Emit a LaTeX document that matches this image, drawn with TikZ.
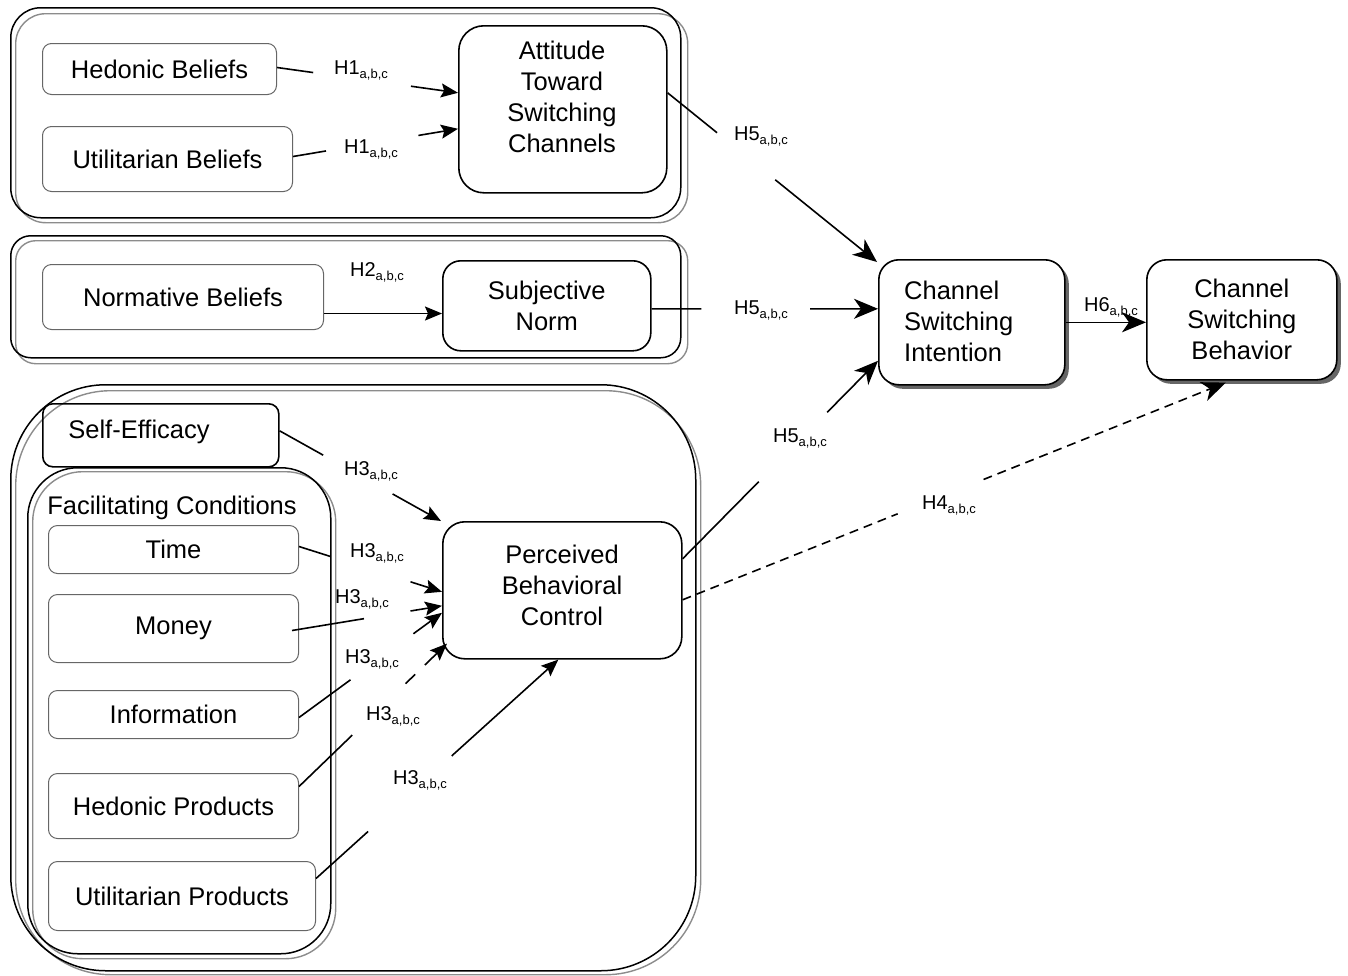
\documentclass[tikz,border=0pt]{standalone}
\usepackage{fontspec}
\setmainfont{Liberation Sans}
\usetikzlibrary{calc,arrows.meta,shadows}
\newcommand{\hyp}[1]{H#1\raisebox{-0.2em}{\fontsize{13}{14}\selectfont a,b,c}}
\begin{document}
\begin{tikzpicture}[x=1pt,y=-1pt,
  every node/.style={font=\fontsize{25.5}{31}\selectfont, inner sep=0pt},
  grp/.style={draw=black, line width=1.5pt, anchor=north west},
  grpsh/.style={draw=black!45, line width=1.4pt, anchor=north west},
  gbox/.style={draw=black!60, line width=1pt, rounded corners=9pt, fill=white, anchor=north west, align=center},
  bbox/.style={draw=black, line width=1.6pt, fill=white, anchor=north west, align=center},
  shbox/.style={bbox, rounded corners=20pt, drop shadow={shadow xshift=4pt, shadow yshift=-4pt, fill=black!60, opacity=1}},
  conn/.style={line width=1.6pt},
  arr/.style={-{Stealth[length=17pt,width=14pt,inset=3pt]}},
  bigarr/.style={-{Stealth[length=24pt,width=20pt,inset=7pt]}},
  lab/.style={font=\fontsize{20}{22}\selectfont}
]
\useasboundingbox (0,0) rectangle (1348,975);
% ---- groups ----
\node[grpsh, rounded corners=30pt, minimum width=672, minimum height=209] (g1s) at (15,13) {};
\node[grp, rounded corners=30pt, minimum width=670, minimum height=210] (g1) at (10,7) {};
\node[grpsh, rounded corners=20pt, minimum width=672, minimum height=123] (g2s) at (15,240) {};
\node[grp, rounded corners=20pt, minimum width=670, minimum height=122] (g2) at (10,235) {};
\node[grpsh, rounded corners=95pt, minimum width=685, minimum height=584] (g3s) at (15,390) {};
\node[grp, rounded corners=95pt, minimum width=685, minimum height=586] (g3) at (10,384) {};
\node[grpsh, rounded corners=50pt, minimum width=303, minimum height=487] (fcs) at (32,471) {};
\node[grp, rounded corners=50pt, minimum width=303, minimum height=486] (fc) at (27,467) {};
% ---- boxes ----
\node[gbox, minimum width=234, minimum height=51] (hb) at (42,43) {Hedonic Beliefs};
\node[gbox, minimum width=250, minimum height=65] (ub) at (42,126) {Utilitarian Beliefs};
\node[bbox, rounded corners=25pt, minimum width=208, minimum height=167] (att) at (458,25) {};
\node (attt) at (562,97) [align=center] {Attitude\\Toward\\Switching\\Channels};
\node[gbox, minimum width=281, minimum height=65] (nb) at (42,264) {Normative Beliefs};
\node[bbox, rounded corners=18pt, minimum width=208, minimum height=90] (sn) at (442,260) {Subjective\\Norm};
\node[draw=black, line width=1.6pt, rounded corners=10pt, anchor=north west, minimum width=236, minimum height=63] (se) at (42,403) {};
\node (set) at (139,432) {Self-Efficacy};
\node (fct) at (172,508) {Facilitating Conditions};
\node[gbox, minimum width=250, minimum height=48] (time) at (48,525) {Time};
\node[gbox, minimum width=250, minimum height=68] (money) at (48,594) {Money};
\node[gbox, minimum width=250, minimum height=48] (info) at (48,690) {Information};
\node[gbox, minimum width=250, minimum height=65] (hp) at (48,773) {Hedonic Products};
\node[gbox, minimum width=267, minimum height=69] (up) at (48,861) {Utilitarian Products};
\node[bbox, rounded corners=22pt, minimum width=239, minimum height=137] (pbc) at (442,521) {};
\node (pbct) at (562,585) [align=center] {Perceived\\Behavioral\\Control};
\node[shbox, minimum width=186, minimum height=125] (csi) at (878,259) {};
\node[anchor=west, align=left] (csit) at (904,321) {Channel\\Switching\\Intention};
\node[shbox, minimum width=190, minimum height=120] (csb) at (1146,259) {Channel\\Switching\\Behavior};
% ---- connector end points ----
\coordinate (c1s) at ([yshift=1.5pt]hb.east);
\coordinate (c1e) at ([yshift=16.5pt]att.west);
\coordinate (c2s) at ([yshift=2.5pt]ub.east);
\coordinate (c2e) at ([yshift=-19.5pt]att.west);
\coordinate (c3s) at ([yshift=-16.5pt]nb.east);
\coordinate (c3e) at (sn.west |- c3s);
\coordinate (c4s) at ([yshift=16.5pt]att.east);
\coordinate (c4e) at ([xshift=-1pt,yshift=-3pt]csi.north west);
\coordinate (c5s) at ([yshift=-3pt]sn.east);
\coordinate (c5e) at (csi.west |- c5s);
\coordinate (c6s) at ([yshift=31.5pt]pbc.east);
\coordinate (c6e) at ([yshift=-38.5pt]csi.west);
\coordinate (c7e) at (csb.west |- csi.east);
\coordinate (c8s) at ([yshift=-9.5pt]pbc.east);
\coordinate (c8e) at ([xshift=-16pt,yshift=-2pt]csb.south);
\coordinate (c9s) at ([yshift=4.5pt]se.east);
\coordinate (c9e) at ([xshift=-1pt]pbc.north west);
\coordinate (c10s) at ([yshift=3pt]time.east);
\coordinate (c10e) at ([yshift=-1.5pt]pbc.west);
\coordinate (c11s) at ([xshift=-7pt,yshift=-2pt]money.east);
\coordinate (c11e) at ([yshift=-15.5pt]pbc.west);
\coordinate (c12s) at ([yshift=-3pt]info.east);
\coordinate (c12e) at ([yshift=-22.5pt]pbc.west);
\coordinate (c13s) at ([yshift=19.5pt]hp.east);
\coordinate (c13e) at ([xshift=5pt,yshift=16pt]pbc.south west);
\coordinate (c14s) at ([yshift=17.5pt]up.east);
\coordinate (c14e) at ([xshift=-4pt]pbc.south);
% ---- connectors ----
\draw[conn] (c1s) -- ($(c1s)!0.20!(c1e)$);
\draw[conn,arr] ($(c1s)!0.74!(c1e)$) -- (c1e);
\draw[conn] (c2s) -- ($(c2s)!0.20!(c2e)$);
\draw[conn,arr] ($(c2s)!0.76!(c2e)$) -- (c2e);
\draw[conn,arr] (c3s) -- (c3e);
\draw[conn] (c4s) -- ($(c4s)!0.236!(c4e)$);
\draw[conn,bigarr] ($(c4s)!0.514!(c4e)$) -- (c4e);
\draw[conn] (c5s) -- ($(c5s)!0.22!(c5e)$);
\draw[conn,bigarr] ($(c5s)!0.70!(c5e)$) -- (c5e);
\draw[conn] (c6s) -- ($(c6s)!0.39!(c6e)$);
\draw[conn,bigarr] ($(c6s)!0.74!(c6e)$) -- (c6e);
\draw[conn,bigarr] (csi.east) -- (c7e);
\draw[conn,dash pattern=on 9pt off 6pt] (c8s) -- ($(c8s)!0.396!(c8e)$);
\draw[conn,bigarr,dash pattern=on 9pt off 6pt] ($(c8s)!0.554!(c8e)$) -- (c8e);
\draw[conn] (c9s) -- ($(c9s)!0.27!(c9e)$);
\draw[conn,arr] ($(c9s)!0.70!(c9e)$) -- (c9e);
\draw[conn] (c10s) -- ($(c10s)!0.22!(c10e)$);
\draw[conn,arr] ($(c10s)!0.78!(c10e)$) -- (c10e);
\draw[conn] (c11s) -- ($(c11s)!0.48!(c11e)$);
\draw[conn,arr] ($(c11s)!0.79!(c11e)$) -- (c11e);
\draw[conn] (c12s) -- ($(c12s)!0.36!(c12e)$);
\draw[conn,arr] ($(c12s)!0.80!(c12e)$) -- (c12e);
\draw[conn] (c13s) -- ($(c13s)!0.36!(c13e)$);
\draw[conn] ($(c13s)!0.72!(c13e)$) -- ($(c13s)!0.785!(c13e)$);
\draw[conn,arr] ($(c13s)!0.85!(c13e)$) -- (c13e);
\draw[conn] (c14s) -- ($(c14s)!0.215!(c14e)$);
\draw[conn,arr] ($(c14s)!0.56!(c14e)$) -- (c14e);
% ---- labels ----
\node[lab] (l1a) at (361,70) {\hyp{1}};
\node[lab] (l1b) at (371,149) {\hyp{1}};
\node[lab] (l2) at (377,272) {\hyp{2}};
\node[lab] (l5a) at (761,136) {\hyp{5}};
\node[lab] (l5b) at (761,310) {\hyp{5}};
\node[lab] (l5c) at (800,438) {\hyp{5}};
\node[lab] (l6) at (1111,307) {\hyp{6}};
\node[lab] (l4) at (949,505) {\hyp{4}};
\node[lab] (l3a) at (371,471) {\hyp{3}};
\node[lab] (l3b) at (377,553) {\hyp{3}};
\node[lab] (l3c) at (362,599) {\hyp{3}};
\node[lab] (l3d) at (372,659) {\hyp{3}};
\node[lab] (l3e) at (393,716) {\hyp{3}};
\node[lab] (l3f) at (420,780) {\hyp{3}};
\end{tikzpicture}
\end{document}
